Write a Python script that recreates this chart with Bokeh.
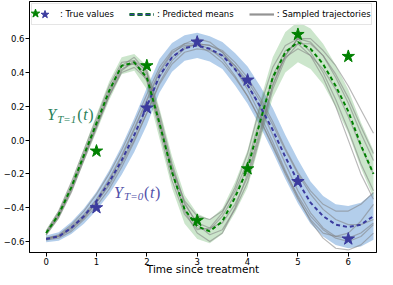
import numpy as np
from bokeh.plotting import figure
from bokeh.models import (Range1d, FixedTicker, CustomJSTickFormatter, Legend,
                          LegendItem, Label)
from bokeh.core.properties import value
from bokeh.embed import file_html
from bokeh.resources import INLINE

# ---------------- data ----------------
t_grid = [0.0, 0.25, 0.5, 0.75, 1.0, 1.25, 1.5, 1.75, 2.0, 2.25, 2.5, 2.75, 3.0,
          3.25, 3.5, 3.75, 4.0, 4.25, 4.5, 4.75, 5.0, 5.25, 5.5, 5.75, 6.0, 6.25, 6.5]

green_mean = [-0.55, -0.44, -0.28, -0.09, 0.10, 0.29, 0.44, 0.46, 0.37, 0.10, -0.19, -0.41,
              -0.51, -0.54, -0.48, -0.34, -0.17, 0.11, 0.37, 0.52, 0.58, 0.54, 0.45, 0.32,
              0.17, -0.03, -0.20]
green_halfwidth = [0.02, 0.025, 0.03, 0.04, 0.05, 0.055, 0.05, 0.05, 0.07, 0.09, 0.095, 0.085,
                   0.075, 0.07, 0.075, 0.09, 0.11, 0.12, 0.12, 0.12, 0.12, 0.12, 0.12, 0.125,
                   0.13, 0.135, 0.14]

blue_mean = [-0.585, -0.57, -0.52, -0.45, -0.36, -0.25, -0.12, 0.03, 0.20, 0.38, 0.49, 0.545,
             0.56, 0.54, 0.50, 0.42, 0.325, 0.20, 0.06, -0.10, -0.245, -0.37, -0.45, -0.50,
             -0.515, -0.50, -0.45]
blue_halfwidth = [0.02, 0.025, 0.035, 0.045, 0.055, 0.07, 0.085, 0.10, 0.11, 0.10, 0.085, 0.075,
                  0.075, 0.075, 0.08, 0.095, 0.11, 0.12, 0.13, 0.13, 0.13, 0.125, 0.12, 0.12,
                  0.125, 0.13, 0.14]

green_traj_1 = [-0.54, -0.42, -0.25, -0.06, 0.13, 0.32, 0.46, 0.47, 0.35, 0.06, -0.24, -0.44, -0.53,
                -0.52, -0.43, -0.28, -0.08, 0.20, 0.43, 0.56, 0.60, 0.52, 0.40, 0.24, 0.06, -0.14, -0.30]
green_traj_2 = [-0.56, -0.46, -0.31, -0.12, 0.07, 0.26, 0.41, 0.47, 0.41, 0.16, -0.14, -0.37, -0.50,
                -0.56, -0.53, -0.41, -0.25, 0.02, 0.30, 0.48, 0.57, 0.57, 0.50, 0.39, 0.25, 0.08, -0.08]
green_traj_3 = [-0.55, -0.45, -0.29, -0.10, 0.09, 0.28, 0.44, 0.49, 0.40, 0.12, -0.19, -0.42, -0.55,
                -0.60, -0.55, -0.40, -0.20, 0.06, 0.32, 0.50, 0.60, 0.60, 0.53, 0.44, 0.32, 0.18, 0.04]
green_traj_4 = [-0.55, -0.44, -0.28, -0.10, 0.08, 0.26, 0.40, 0.43, 0.36, 0.10, -0.17, -0.36, -0.45,
                -0.47, -0.42, -0.30, -0.13, 0.13, 0.36, 0.49, 0.54, 0.50, 0.42, 0.30, 0.14, -0.04, -0.20]
green_traj_5 = [-0.55, -0.43, -0.27, -0.08, 0.11, 0.30, 0.44, 0.45, 0.37, 0.09, -0.20, -0.41, -0.52,
                -0.53, -0.45, -0.32, -0.16, 0.10, 0.38, 0.53, 0.57, 0.50, 0.37, 0.20, 0.00, -0.20, -0.35]
green_traj_6 = [-0.56, -0.45, -0.30, -0.11, 0.08, 0.27, 0.42, 0.46, 0.39, 0.13, -0.16, -0.38, -0.49,
                -0.52, -0.49, -0.38, -0.22, 0.04, 0.33, 0.50, 0.60, 0.58, 0.50, 0.37, 0.22, 0.04, -0.12]

blue_traj_1 = [-0.58, -0.56, -0.50, -0.42, -0.32, -0.20, -0.06, 0.10, 0.27, 0.43, 0.53, 0.57, 0.57,
               0.54, 0.48, 0.38, 0.26, 0.12, -0.03, -0.19, -0.33, -0.45, -0.53, -0.58, -0.60, -0.57, -0.50]
blue_traj_2 = [-0.59, -0.58, -0.54, -0.47, -0.39, -0.29, -0.16, -0.01, 0.16, 0.34, 0.47, 0.54, 0.57,
               0.56, 0.53, 0.46, 0.37, 0.25, 0.11, -0.05, -0.19, -0.30, -0.38, -0.42, -0.42, -0.38, -0.31]
blue_traj_3 = [-0.58, -0.57, -0.52, -0.45, -0.36, -0.24, -0.10, 0.06, 0.23, 0.40, 0.51, 0.57, 0.60,
               0.58, 0.52, 0.42, 0.30, 0.15, -0.01, -0.18, -0.34, -0.48, -0.58, -0.64, -0.65, -0.62, -0.55]
blue_traj_4 = [-0.59, -0.57, -0.52, -0.46, -0.37, -0.27, -0.14, 0.00, 0.16, 0.33, 0.45, 0.52, 0.54,
               0.53, 0.50, 0.44, 0.35, 0.23, 0.09, -0.06, -0.20, -0.32, -0.41, -0.47, -0.50, -0.50, -0.47]
blue_traj_5 = [-0.585, -0.565, -0.51, -0.44, -0.35, -0.23, -0.09, 0.07, 0.24, 0.41, 0.52, 0.56, 0.56,
               0.52, 0.46, 0.37, 0.26, 0.12, -0.04, -0.20, -0.35, -0.47, -0.55, -0.57, -0.55, -0.48, -0.38]
blue_traj_6 = [-0.58, -0.57, -0.53, -0.46, -0.37, -0.26, -0.13, 0.02, 0.19, 0.37, 0.49, 0.55, 0.57,
               0.56, 0.52, 0.44, 0.33, 0.19, 0.03, -0.14, -0.30, -0.43, -0.52, -0.57, -0.58, -0.55, -0.49]

star_t = [1, 2, 3, 4, 5, 6]
green_true = [-0.065, 0.44, -0.475, -0.17, 0.625, 0.495]
blue_true = [-0.40, 0.19, 0.58, 0.355, -0.245, -0.585]

x_ticks = [0, 1, 2, 3, 4, 5, 6]
y_ticks = [-0.6, -0.4, -0.2, 0.0, 0.2, 0.4, 0.6]

GREEN = "#008000"
BLUE = "#3b3b9e"
GREEN_TXT = "#2a7f5a"
BLUE_TXT = "#5252aa"

# ---------------- figure ----------------
p = figure(width=377, height=277, output_backend="svg", toolbar_location=None,
           x_range=Range1d(-0.33, 6.56), y_range=Range1d(-0.665, 0.82),
           background_fill_color="white", border_fill_color="white")
p.min_border_left = 0
p.min_border_right = 1
p.min_border_top = 1
p.min_border_bottom = 0
p.grid.visible = False
p.outline_line_color = "black"
p.outline_line_width = 1

t = np.array(t_grid)
gm, gw = np.array(green_mean), np.array(green_halfwidth)
bm, bw = np.array(blue_mean), np.array(blue_halfwidth)

p.varea(x=t, y1=bm - bw, y2=bm + bw, fill_color="#4a8ad0", fill_alpha=0.42)
p.varea(x=t, y1=gm - gw, y2=gm + gw, fill_color=GREEN, fill_alpha=0.2)

trajs = [green_traj_1, green_traj_2, green_traj_3, green_traj_4, green_traj_5, green_traj_6,
         blue_traj_1, blue_traj_2, blue_traj_3, blue_traj_4, blue_traj_5, blue_traj_6]
gray_lines = p.multi_line(xs=[t_grid] * len(trajs), ys=trajs, line_color="gray",
                          line_alpha=0.55, line_width=1.2)

blue_line = p.line(t, blue_mean, line_color=BLUE, line_width=2, line_dash="4 3")
green_line = p.line(t, green_mean, line_color=GREEN, line_width=2, line_dash="4 3")

p.scatter(star_t, green_true, marker="star", size=13, fill_color=GREEN, line_color=GREEN)
p.scatter(star_t, blue_true, marker="star", size=13, fill_color=BLUE, line_color=BLUE)

# ---------------- axes ----------------
p.xaxis.ticker = FixedTicker(ticks=x_ticks)
p.yaxis.ticker = FixedTicker(ticks=y_ticks)
p.yaxis.formatter = CustomJSTickFormatter(
    code="return (tick < 0 ? '\u2212' : '') + Math.abs(tick).toFixed(1);")
for ax in (p.xaxis, p.yaxis):
    ax.major_tick_in = 0
    ax.major_tick_out = 4
    ax.minor_tick_line_color = None
    ax.axis_line_color = "black"
    ax.major_tick_line_color = "black"
    ax.major_label_text_font = "DejaVu Sans"
    ax.major_label_text_font_size = "8.5px"
    ax.major_label_text_color = "black"
    ax.major_label_standoff = 1
p.xaxis.axis_label = "Time since treatment"
p.xaxis.axis_label_text_font = "DejaVu Sans"
p.xaxis.axis_label_text_font_size = "10.5px"
p.xaxis.axis_label_text_font_style = "normal"
p.xaxis.axis_label_text_color = "black"
p.xaxis.axis_label_standoff = -5

# ---------------- curve labels ----------------
def math_label(x, y, sub, color):
    kw = dict(x=x, y=y, text_color=color, text_font="Liberation Serif",
              text_font_style="italic", text_baseline="alphabetic")
    p.add_layout(Label(text="Y", text_font_size="16px", **kw))
    p.add_layout(Label(text=sub, text_font_size="11px", x_offset=10, y_offset=-4, **kw))
    kw["text_font_style"] = "normal"
    p.add_layout(Label(text="(", text_font_size="16px", x_offset=30, **kw))
    kw["text_font_style"] = "italic"
    p.add_layout(Label(text="t", text_font_size="16px", x_offset=36, **kw))
    kw["text_font_style"] = "normal"
    p.add_layout(Label(text=")", text_font_size="16px", x_offset=41, **kw))

math_label(0.02, 0.15, "T=1", GREEN_TXT)
math_label(1.35, -0.31, "T=0", BLUE_TXT)

# ---------------- legend (legend-only copies of the real data, hidden) ----------------
lg_star_g = p.scatter(star_t, green_true, marker="star", fill_color=GREEN, line_color=GREEN,
                      visible=False)
lg_star_b = p.scatter(star_t, blue_true, marker="star", fill_color=BLUE, line_color=BLUE,
                      visible=False)
lg_dash_g = p.line(t, green_mean, line_color=GREEN, line_width=3, line_dash="5 3", visible=False)
lg_dash_b = p.line(t, blue_mean, line_color=BLUE, line_width=1.4, line_dash="5 3", visible=False)
lg_gray = p.line(t, blue_traj_1, line_color="gray", line_width=2.2, line_alpha=0.85,
                 visible=False)

main_legend = Legend(
    items=[LegendItem(label=value(": True values"), renderers=[lg_star_b]),
           LegendItem(label=value(": Predicted means"), renderers=[lg_dash_g, lg_dash_b]),
           LegendItem(label=value(": Sampled trajectories"), renderers=[lg_gray])],
    location="top_left", orientation="horizontal", margin=2, padding=0, spacing=15,
    glyph_width=25, glyph_height=20, label_height=20, label_standoff=3,
    label_text_font="DejaVu Sans", label_text_font_size="8.5px", label_text_color="black",
    border_line_color="#cccccc", background_fill_color="white", background_fill_alpha=0.85,
    inactive_fill_alpha=0)
p.add_layout(main_legend)

star_legend = Legend(
    items=[LegendItem(label=value(" "), renderers=[lg_star_g])],
    location="top_left", orientation="horizontal", margin=-5, padding=0,
    glyph_width=22, glyph_height=34, label_height=0, label_width=0, label_standoff=0,
    label_text_font_size="1px", border_line_color=None, background_fill_color=None,
    inactive_fill_alpha=0)
p.add_layout(star_legend)

open("out.html", "w").write(file_html(p, INLINE))
